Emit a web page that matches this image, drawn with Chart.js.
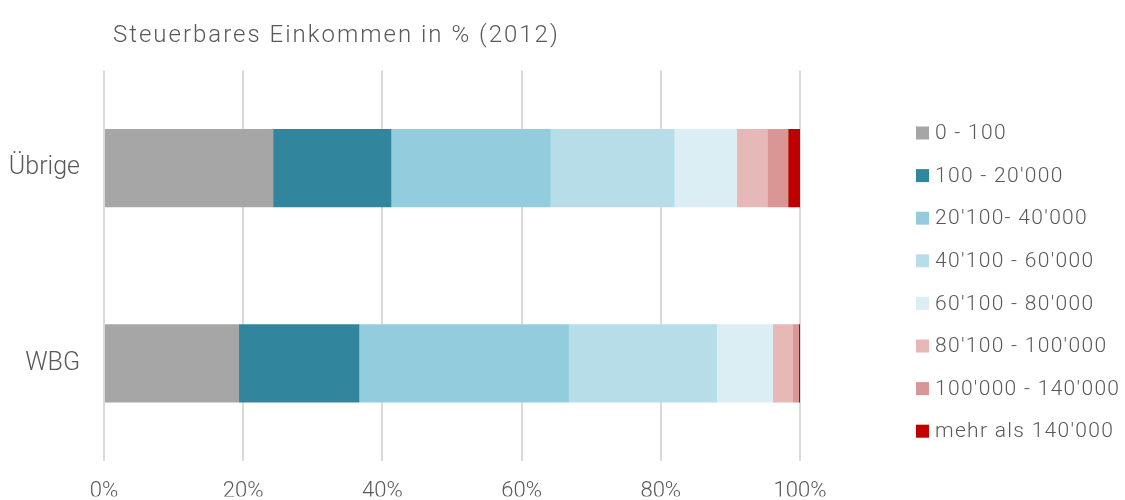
<!DOCTYPE html>
<html>
<head>
<meta charset="utf-8">
<script src="https://cdn.jsdelivr.net/npm/chart.js@4"></script>
<style>
  html, body { margin: 0; padding: 0; background: #ffffff; }
  #wrap { width: 1125px; height: 500px; position: relative; }
</style>
</head>
<body>
<div id="wrap"><canvas id="c" width="1125" height="500"></canvas></div>
<script>
const titleText = "Steuerbares Einkommen in % (2012)";
const categories = ["Übrige", "WBG"];
const seriesLabels = ["0 - 100", "100 - 20'000", "20'100- 40'000", "40'100 - 60'000", "60'100 - 80'000", "80'100 - 100'000", "100'000 - 140'000", "mehr als 140'000"];
const seriesColors = ["#a6a6a6", "#31859c", "#93cddd", "#b7dee8", "#dbeef4", "#e6b9b8", "#d99694", "#c00000"];
const s0_100     = [24.3, 19.4];
const s100_20k   = [17.0, 17.3];
const s20k_40k   = [22.9, 30.1];
const s40k_60k   = [17.8, 21.3];
const s60k_80k   = [8.9, 8.0];
const s80k_100k  = [4.4, 2.8];
const s100k_140k = [3.0, 0.9];
const s140kPlus  = [1.7, 0.2];
const seriesValues = [s0_100, s100_20k, s20k_40k, s40k_60k, s60k_80k, s80k_100k, s100k_140k, s140kPlus];
const xTicks = [0, 20, 40, 60, 80, 100];

const FONT = "Roboto";
const TXT = "#595959";

const titlePlugin = {
  id: 'customTitle',
  afterDraw(chart) {
    const ctx = chart.ctx;
    ctx.save();
    ctx.font = "300 24px " + FONT;
    ctx.letterSpacing = "2px";
    ctx.fillStyle = TXT;
    ctx.textBaseline = "alphabetic";
    ctx.textAlign = "left";
    ctx.fillText(titleText, 113, 42);
    ctx.restore();
  }
};

const legendPlugin = {
  id: 'customLegend',
  afterDraw(chart) {
    const ctx = chart.ctx;
    ctx.save();
    ctx.font = "300 21px " + FONT;
    ctx.letterSpacing = "1.3px";
    ctx.textBaseline = "middle";
    ctx.textAlign = "left";
    chart.data.datasets.forEach((ds, i) => {
      const cy = 133 + i * 42.6;
      ctx.fillStyle = ds.backgroundColor;
      ctx.fillRect(916, cy - 6.5, 13, 13);
      ctx.fillStyle = TXT;
      ctx.fillText(ds.label, 935, cy + 1);
    });
    ctx.restore();
  }
};

new Chart(document.getElementById('c'), {
  type: 'bar',
  data: {
    labels: categories,
    datasets: seriesLabels.map((lab, i) => ({
      label: lab,
      data: seriesValues[i],
      backgroundColor: seriesColors[i],
      borderWidth: 0,
      categoryPercentage: 0.4,
      barPercentage: 1.0
    }))
  },
  options: {
    indexAxis: 'y',
    responsive: false,
    animation: false,
    layout: { padding: { top: 70.5, right: 325, left: 0, bottom: 0 } },
    plugins: {
      legend: { display: false },
      title: { display: false },
      tooltip: { enabled: false }
    },
    scales: {
      x: {
        stacked: true,
        min: 0, max: 100,
        afterBuildTicks(scale) { scale.ticks = xTicks.map(v => ({ value: v })); },
        afterFit(scale) { scale.height = 35.5; },
        ticks: {
          callback: v => v + '%',
          color: TXT,
          font: { family: FONT, size: 22, weight: '300' },
          padding: 17,
          maxRotation: 0
        },
        grid: { color: '#d9d9d9', lineWidth: 2, drawTicks: false },
        border: { display: false }
      },
      y: {
        stacked: true,
        afterFit(scale) { scale.width = 104; },
        ticks: {
          color: TXT,
          font: { family: FONT, size: 25, weight: '300' },
          padding: 24
        },
        grid: { display: false, drawTicks: false },
        border: { display: false }
      }
    }
  },
  plugins: [titlePlugin, legendPlugin]
});
</script>
</body>
</html>
